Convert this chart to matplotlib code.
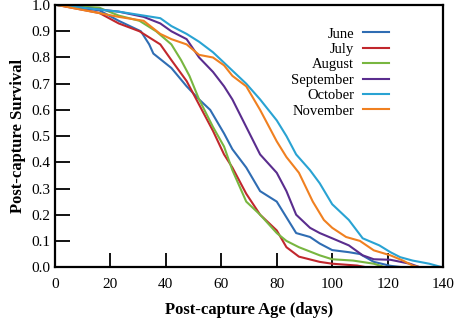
import matplotlib
matplotlib.use('Agg')
import matplotlib.pyplot as plt

# 월별 생존 곡선
june_x = [1, 16, 23, 31, 34, 35.5, 42, 47.5, 52, 56, 61, 64, 69, 74, 80, 83.5, 87, 92, 95.5, 100, 106, 110, 115, 121, 125]
june_y = [1.0, 0.98, 0.94, 0.90, 0.85, 0.815, 0.76, 0.69, 0.64, 0.60, 0.51, 0.45, 0.38, 0.29, 0.25, 0.19, 0.13, 0.115, 0.09, 0.065, 0.057, 0.05, 0.02, 0.005, 0.0]

july_x = [1, 16, 23, 30.5, 38, 42, 47.5, 52, 57, 61, 64, 69, 74, 80, 83.5, 88, 95.5, 100, 109, 112]
july_y = [1.0, 0.97, 0.93, 0.90, 0.85, 0.79, 0.71, 0.62, 0.52, 0.43, 0.38, 0.28, 0.20, 0.14, 0.076, 0.04, 0.02, 0.013, 0.006, 0.0]

aug_x = [1, 16, 23, 30.5, 36.5, 42, 45.5, 48.5, 52, 57, 61, 64, 69, 74, 80, 83.5, 88, 95.5, 100, 107.5, 115, 119]
aug_y = [1.0, 0.99, 0.96, 0.94, 0.90, 0.85, 0.79, 0.73, 0.64, 0.535, 0.46, 0.37, 0.25, 0.20, 0.13, 0.10, 0.076, 0.045, 0.03, 0.025, 0.013, 0.0]

sep_x = [1, 23, 32, 38, 42, 47.5, 52, 57, 61, 64, 69, 74, 80, 83.5, 87, 92, 95.5, 100, 106, 111, 115, 121, 128, 131.5]
sep_y = [1.0, 0.975, 0.955, 0.93, 0.90, 0.87, 0.80, 0.745, 0.69, 0.64, 0.535, 0.43, 0.36, 0.29, 0.20, 0.15, 0.13, 0.11, 0.083, 0.045, 0.03, 0.028, 0.013, 0.0]

oct_x = [1, 23, 32, 38, 42, 47.5, 52, 57, 61, 64, 69, 74, 80, 83.5, 87, 92, 95.5, 100, 106, 111, 117, 121, 124.5, 129, 135, 139.5]
oct_y = [1.0, 0.975, 0.96, 0.95, 0.92, 0.89, 0.86, 0.82, 0.78, 0.75, 0.70, 0.64, 0.56, 0.50, 0.43, 0.37, 0.32, 0.24, 0.18, 0.11, 0.083, 0.057, 0.038, 0.025, 0.013, 0.0]

nov_x = [1, 23, 32, 38, 42, 47.5, 52, 57, 61, 64, 69, 74, 80, 83.5, 88, 93, 97, 100, 105, 110, 115, 121, 125.5, 129, 131.5]
nov_y = [1.0, 0.955, 0.94, 0.89, 0.87, 0.85, 0.81, 0.80, 0.77, 0.73, 0.69, 0.60, 0.48, 0.42, 0.36, 0.25, 0.18, 0.15, 0.115, 0.10, 0.064, 0.045, 0.025, 0.006, 0.0]

series = [
    ('June', june_x, june_y, '#2f6db3'),
    ('July', july_x, july_y, '#c1272d'),
    ('August', aug_x, aug_y, '#78b640'),
    ('September', sep_x, sep_y, '#5a2d8e'),
    ('October', oct_x, oct_y, '#29a3d3'),
    ('November', nov_x, nov_y, '#f08020'),
]

plt.rcParams['font.family'] = ['Liberation Serif', 'DejaVu Serif']

fig = plt.figure(figsize=(4.54, 3.18), dpi=100)
ax = fig.add_axes([0.121, 0.160, 0.855, 0.824])

for name, x, y, c in series:
    ax.plot(x, y, color=c, lw=1.5, label=name)

ax.set_xlim(0, 140)
ax.set_ylim(0, 1.0)
ax.set_xticks(range(0, 141, 20))
ax.set_yticks([i / 10 for i in range(11)])
ax.set_yticklabels([f'{i / 10:.1f}' for i in range(11)])
ax.tick_params(axis='x', direction='in', length=10, width=1.3, labelsize=11, pad=8)
ax.tick_params(axis='y', direction='in', length=11, width=1.3, labelsize=11, pad=3)
for s in ax.spines.values():
    s.set_linewidth(1.6)

ax.set_xlabel('Post-capture Age (days)', fontsize=12, fontweight='bold', labelpad=8)
ax.set_ylabel('Post-capture Survival', fontsize=12, fontweight='bold', labelpad=4)

ax.legend(loc='upper right', bbox_to_anchor=(0.895, 0.965), frameon=False, markerfirst=False,
          fontsize=10.5, handlelength=1.8, labelspacing=0.15, handletextpad=0.6)

fig.savefig('out.png', dpi=100)
